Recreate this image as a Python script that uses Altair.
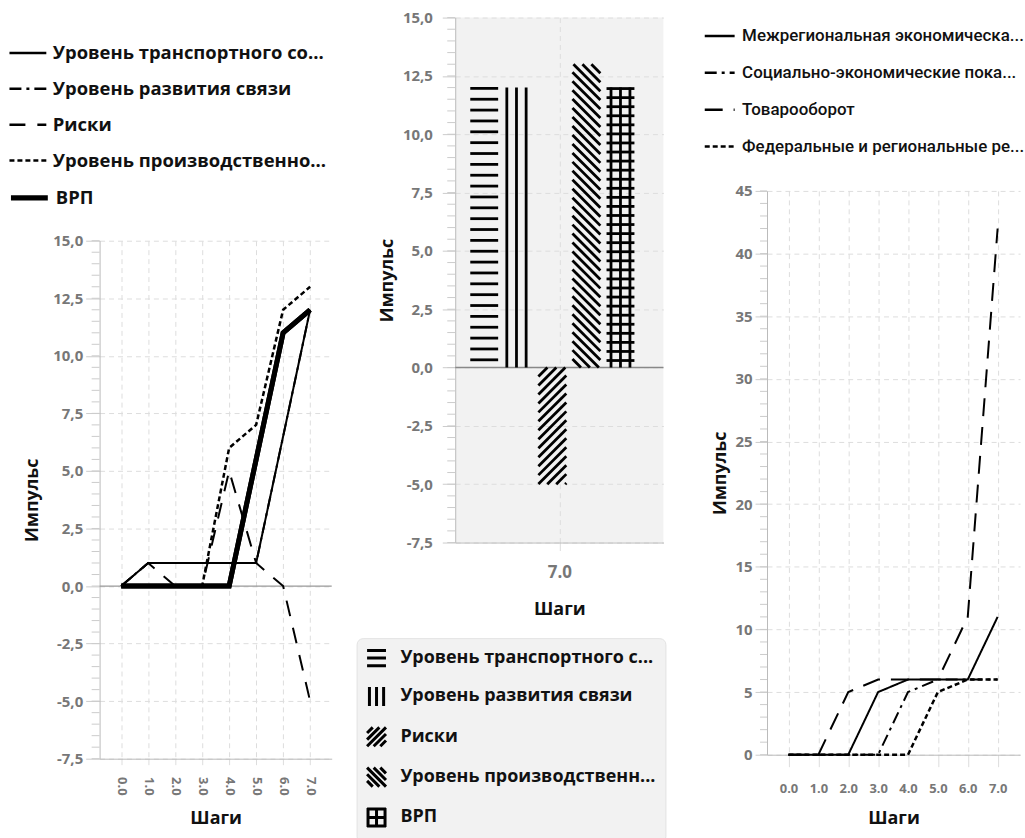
import altair as alt
import numpy as np
import pandas as pd

# ---------------- data ----------------
steps = [0, 1, 2, 3, 4, 5, 6, 7]

left_names = [
    "Уровень транспортного со...",
    "Уровень развития связи",
    "Риски",
    "Уровень производственно...",
    "ВРП",
]
transport = [0, 1, 1, 1, 1, 1, 6.5, 12]
svyaz = [0, 1, 1, 1, 1, 1, 6.5, 12]
riski = [0, 1, 0, 0, 5, 1, 0, -5]
proizv = [0, 0, 0, 0, 6, 7, 12, 13]
vrp = [0, 0, 0, 0, 0, 5.5, 11, 12]

bar_step = 7.0
bar_names = [
    "Уровень транспортного с...",
    "Уровень развития связи",
    "Риски",
    "Уровень производственн...",
    "ВРП",
]
bar_values = [12, 12, -5, 13, 12]

right_names = [
    "Межрегиональная экономическа...",
    "\u00a0Социально-экономические пока...",
    "Товарооборот",
    "Федеральные и региональные ре...",
]
mezhreg = [0, 0, 0, 5, 6, 6, 6, 11]
socio = [0, 0, 0, 0, 5, 6, 6, 6]
tovar = [0, 0, 5, 6, 6, 6, 11, 42]
feder = [0, 0, 0, 0, 0, 5, 6, 6]

# ---------------- style ----------------
FONT = "Open Sans"
LABEL_C = "#777777"
TITLE_C = "#111111"
TICK_C = "#cccccc"
DOMAIN_C = "#bbbbbb"
GRID_C = "#dddddd"
GRID_DASH = [5, 4]
ONE = pd.DataFrame({"a": [0]})


def comma_fmt(fmt):
    return ("replace(replace(format(datum.value, '%s'), '.', ','), '\u2212', '-')" % fmt)


def long_df(names, series):
    rows = []
    for n, vals in zip(names, series):
        for s, v in zip(steps, vals):
            rows.append({"series": n, "step": s, "value": v})
    return pd.DataFrame(rows)


def frame(x0, x1, y0):
    # invisible rule that fixes the outer extent of a panel in the row layout
    return alt.Chart(ONE).mark_rule(opacity=0).encode(
        x=alt.value(x0), x2=alt.value(x1), y=alt.value(y0))


def spacer(w, h):
    return alt.Chart(ONE).mark_point(opacity=0).encode(
        x=alt.value(0), y=alt.value(0)).properties(width=w, height=h)


def minor_ticks(values, length, field):
    return alt.Chart(pd.DataFrame({field: values})).mark_rule(
        color=TICK_C, strokeWidth=1
    ).encode(y=alt.Y(field + ":Q"), x=alt.value(-length), x2=alt.value(0))


def zero_rule(field, color, width):
    return alt.Chart(pd.DataFrame({field: [0.0]})).mark_rule(
        color=color, strokeWidth=width).encode(y=alt.Y(field + ":Q"))


def y_axis(values, expr, label_pad, tick, title_pad):
    return alt.Axis(values=values, labelExpr=expr, labelFont=FONT, labelFontSize=15,
                    labelFontWeight="bold", labelColor=LABEL_C, labelPadding=label_pad,
                    tickSize=tick, tickColor=TICK_C, domainColor=DOMAIN_C,
                    grid=True, gridColor=GRID_C, gridDash=GRID_DASH, labelOverlap=False,
                    title="Импульс", titleFont=FONT, titleFontSize=18,
                    titleFontWeight="bold", titleColor=TITLE_C, titlePadding=title_pad)


def x_axis(values, angle, size, label_pad, tick, title_pad):
    return alt.Axis(values=values, format=".1f", labelAngle=angle, labelFont=FONT,
                    labelFontSize=size, labelFontWeight="bold", labelColor=LABEL_C,
                    labelPadding=label_pad, tickSize=tick, tickColor=GRID_C,
                    domainColor=DOMAIN_C, grid=True, gridColor=GRID_C, gridDash=GRID_DASH,
                    labelOverlap=False,
                    title="Шаги", titleFont=FONT, titleFontSize=18,
                    titleFontWeight="bold", titleColor=TITLE_C, titlePadding=title_pad)


def width_expr(names, widths, ref):
    # nested ternary mapping a series name to its line width
    expr = str(widths[-1])
    for n, w in zip(reversed(names[:-1]), reversed(widths[:-1])):
        expr = "%s === '%s' ? %s : (%s)" % (ref, n, w, expr)
    return expr


def line_legend(x, y, font, size, weight, symbol, stroke_w, row_pad, offset, values=None):
    kw = dict(
        orient="none", legendX=x, legendY=y, title=None, padding=0,
        labelFont=font, labelFontSize=size, labelFontWeight=weight, labelColor=TITLE_C,
        labelLimit=500, labelOffset=offset, symbolSize=symbol, symbolType="stroke",
        symbolStrokeColor="black", symbolStrokeWidth=stroke_w, rowPadding=row_pad,
    )
    if values is not None:
        kw["values"] = values
    return alt.Legend(**kw)


# ---------------- left: line chart ----------------
W1, H1 = 233, 520
X1 = [-0.8, 7.8]
Y1 = [-7.5, 15]

left_df = long_df(left_names, [transport, svyaz, riski, proizv, vrp])
left_dash = [[1, 0], [12, 5, 3, 5], [16, 12], [5, 3], [1, 0]]
left_width = [2, 2, 2, 2.5, 5]
LEG_ROW = 36.5
LEG_TOP = -208.5

left_x = alt.X("step:Q", scale=alt.Scale(domain=X1, nice=False, zero=False),
               axis=x_axis(steps, 90, 13, 12, 6, 14))
left_y = alt.Y("value:Q", scale=alt.Scale(domain=Y1, nice=False, zero=False),
               axis=y_axis(list(np.arange(-7.5, 15.01, 2.5)), comma_fmt(".1f"), 3, 14, 11))

left_lines = alt.Chart(left_df).mark_line(
    color="black",
    strokeWidth=alt.expr(width_expr(left_names, left_width, "datum.series")),
).encode(
    x=left_x,
    y=left_y,
    strokeDash=alt.StrokeDash(
        "series:N", scale=alt.Scale(domain=left_names, range=left_dash),
        legend=line_legend(-92, LEG_TOP, FONT, 18.5, "bold", 1369, 2.5, 6, 5,
                           values=left_names[:-1])),
)

# the thick ВРП line carries its own legend entry so that its key is drawn thick
vrp_line = alt.Chart(left_df).transform_filter(
    alt.datum.series == left_names[-1]
).transform_calculate(key="datum.series").mark_line(strokeWidth=left_width[-1]).encode(
    x=left_x,
    y=left_y,
    stroke=alt.Stroke(
        "key:N", scale=alt.Scale(domain=[left_names[-1]], range=["black"]),
        legend=line_legend(-92, LEG_TOP + 4 * LEG_ROW - 2, FONT, 18.5, "bold", 1369, 5.5, 0, 5)),
)

left_chart = alt.layer(
    frame(-100, 245, -239),
    minor_ticks(np.arange(-7.5, 15.01, 0.5), 8, "value"),
    zero_rule("value", "#999999", 1.3),
    left_lines,
    vrp_line,
).properties(width=W1, height=H1)

# ---------------- middle: hatched bars ----------------
W2, H2 = 209, 527
X2 = [6.5, 7.5]
Y2 = [-7.5, 15]
sx = W2 / (X2[1] - X2[0])
sy = H2 / (Y2[1] - Y2[0])

BAR_W = 28
BAR_GAP = 34.2
GROUP_SHIFT = -7


def to_data(px, py):
    return X2[0] + px / sx, Y2[1] - py / sy


segs = []


def add_seg(name, x0, y0, x1, y1):
    a, b = to_data(x0, y0)
    c, d = to_data(x1, y1)
    segs.append({"series": name, "x": a, "y": b, "x2": c, "y2": d})


for i, (name, v) in enumerate(zip(bar_names, bar_values)):
    cx = (bar_step - X2[0]) * sx + (i - 2) * BAR_GAP + GROUP_SHIFT
    left, right = cx - BAR_W / 2, cx + BAR_W / 2
    top = (Y2[1] - max(v, 0)) * sy
    bottom = (Y2[1] - min(v, 0)) * sy
    if i == 0:  # horizontal hatching
        y = top + 0.8
        while y < bottom - 1.5:
            add_seg(name, left, y, right, y)
            y += 10.9
    elif i == 1:  # vertical hatching
        for k in range(3):
            xx = left + 2.5 + k * 9.7
            add_seg(name, xx, top, xx, bottom)
    elif i in (2, 3):  # diagonal hatching
        sp = 9.0
        if i == 3:  # "\" lines: y = x + c
            c = top - right
            while c < bottom - left:
                xl, xh = max(left, top - c), min(right, bottom - c)
                if xh - xl > 0.5:
                    add_seg(name, xl, xl + c, xh, xh + c)
                c += sp
        else:  # "/" lines: y = -x + c
            c = left + top
            while c < right + bottom:
                xl, xh = max(left, c - bottom), min(right, c - top)
                if xh - xl > 0.5:
                    add_seg(name, xl, c - xl, xh, c - xh)
                c += sp
    else:  # grid hatching
        for dx in (-9.5, 0, 9.5):
            add_seg(name, cx + dx, top, cx + dx, bottom)
        y = top + 1.0
        while y < bottom - 1.5:
            add_seg(name, left, y, right, y)
            y += 9.1

seg_df = pd.DataFrame(segs)

mid_x = alt.X("x:Q", scale=alt.Scale(domain=X2, nice=False, zero=False),
              axis=x_axis([bar_step], 0, 17, 14, 8, 20))
mid_y = alt.Y("y:Q", scale=alt.Scale(domain=Y2, nice=False, zero=False),
              axis=y_axis(list(np.arange(-7.5, 15.01, 2.5)), comma_fmt(".1f"), 10, 13, 6))

hatch = alt.Chart(seg_df).mark_rule(color="black", strokeWidth=2.8, strokeCap="butt").encode(
    x=mid_x, y=mid_y, x2="x2:Q", y2="y2:Q")

pattern_paths = [
    "M-1,-0.8H1M-1,0H1M-1,0.8H1",
    "M-0.75,-1V1M0,-1V1M0.75,-1V1",
    "M-1,-0.4L-0.4,-1M-1,0.3L0.3,-1M-1,1L1,-1M-0.3,1L1,-0.3M0.4,1L1,0.4",
    "M-1,0.4L-0.4,1M-1,-0.3L0.3,1M-1,-1L1,1M-0.3,-1L1,0.3M0.4,-1L1,-0.4",
    "M-1,-0.9H1M-1,0H1M-1,0.9H1M-0.9,-1V1M0,-1V1M0.9,-1V1",
]

mid_legend = alt.Legend(
    orient="none", legendX=-99, legendY=623, title=None, padding=9,
    fillColor="#f2f2f2", strokeColor="#e2e2e2", cornerRadius=6,
    labelFont=FONT, labelFontSize=18, labelFontWeight="bold", labelColor=TITLE_C,
    labelLimit=500, labelOffset=13, symbolSize=360, symbolStrokeWidth=3,
    symbolStrokeColor="black", symbolFillColor="transparent", rowPadding=8.5,
)

legend_keys = alt.Chart(pd.DataFrame({"series": bar_names, "x": bar_step, "y": 0.0})).mark_point(
    opacity=0, filled=False, color="black"
).encode(
    x=mid_x, y=mid_y,
    shape=alt.Shape("series:N", scale=alt.Scale(domain=bar_names, range=pattern_paths),
                    legend=mid_legend),
)

mid_chart = alt.layer(
    frame(-112, 240, -15.5),
    minor_ticks(np.arange(-7.5, 15.01, 0.5), 8, "y"),
    zero_rule("y", "#888888", 1.6),
    hatch,
    legend_keys,
).properties(width=W2, height=H2, view=alt.ViewBackground(fill="#f2f2f2", stroke=None))

# ---------------- right: line chart ----------------
W3, H3 = 254, 566
X3 = [-0.72, 7.75]
Y3 = [0, 45]

right_df = long_df(right_names, [mezhreg, socio, tovar, feder])
right_dash = [[1, 0], [12, 5, 3, 5], [18, 11], [5, 3]]
right_width = [2, 2, 2, 2.5]

right_lines = alt.Chart(right_df).mark_line(
    color="black",
    strokeWidth=alt.expr(width_expr(right_names, right_width, "datum.series")),
).encode(
    x=alt.X("step:Q", scale=alt.Scale(domain=X3, nice=False, zero=False),
            axis=x_axis(steps, 0, 13, 16, 12, 14)),
    y=alt.Y("value:Q", scale=alt.Scale(domain=Y3, nice=False, zero=False),
            axis=y_axis(list(range(0, 46, 5)), "format(datum.value, 'd')", 3, 12, 6)),
    strokeDash=alt.StrokeDash(
        "series:N", scale=alt.Scale(domain=right_names, range=right_dash),
        legend=line_legend(-64, -172, "Roboto", 17, 500, 900, 2.5, 12, 6)),
)

right_chart = alt.layer(
    frame(-73, 255, -189),
    minor_ticks(np.arange(0, 45.01, 1), 7, "value"),
    right_lines,
).properties(width=W3, height=H3)

# ---------------- layout ----------------
left_col = alt.vconcat(spacer(W1, 223.5), left_chart, spacing=0, bounds="flush").resolve_scale(
    strokeDash="independent", stroke="independent"
).resolve_legend(strokeDash="independent", stroke="independent")
right_col = alt.vconcat(spacer(W3, 173.5), right_chart, spacing=0, bounds="flush").resolve_scale(
    strokeDash="independent").resolve_legend(strokeDash="independent")

chart = alt.hconcat(left_col, mid_chart, right_col, spacing=0).resolve_scale(
    strokeDash="independent", stroke="independent", shape="independent"
).resolve_legend(
    strokeDash="independent", stroke="independent", shape="independent"
).properties(
    padding={"left": 0, "top": 0, "right": 0, "bottom": 2}
).configure_view(stroke=None)

chart.save("out.html", embed_options={"renderer": "svg", "actions": False})
